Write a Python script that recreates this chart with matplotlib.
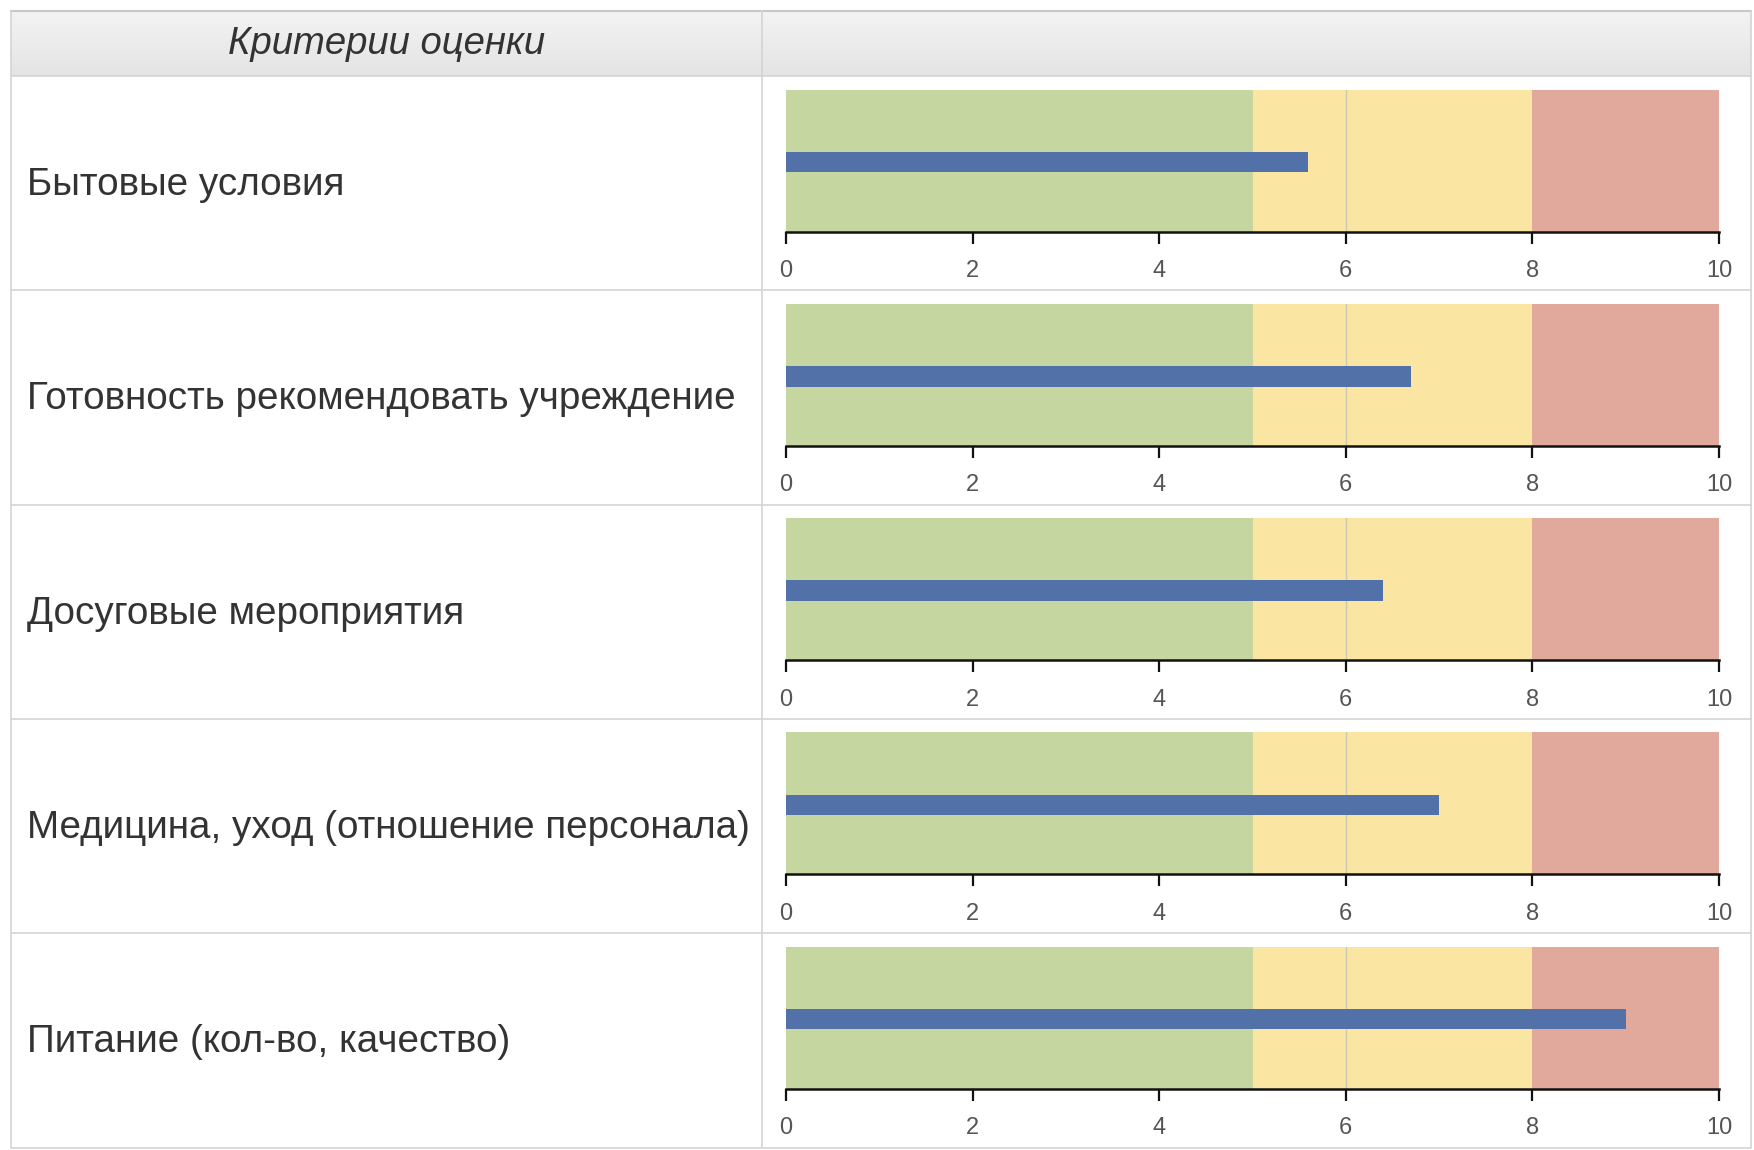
import matplotlib
matplotlib.use("Agg")
import matplotlib.pyplot as plt
from matplotlib.lines import Line2D
import numpy as np

# ---- data ----
categories = [
    "Бытовые условия",
    "Готовность рекомендовать учреждение",
    "Досуговые мероприятия",
    "Медицина, уход (отношение персонала)",
    "Питание (кол-во, качество)",
]
values = [5.6, 6.7, 6.4, 7.0, 9.0]
range_edges = [0, 5, 8, 10]
range_colors = ["#c5d6a0", "#fae6a2", "#e0a99c"]
tick_values = [0, 2, 4, 6, 8, 10]
tick_labels = ["0", "2", "4", "6", "8", "10"]
grid_value = 6
header_text = "Критерии оценки"

W, H = 1754, 1150
fig = plt.figure(figsize=(W / 100, H / 100), dpi=100)
fig.patch.set_facecolor("white")

FONT = ["Liberation Sans", "DejaVu Sans"]

def fx(x):
    return x / W

def fy(y):
    return 1 - y / H

bg = fig.add_axes([0, 0, 1, 1])
bg.set_xlim(0, W)
bg.set_ylim(H, 0)
bg.axis("off")

table_left, table_right = 11, 1751
col_div = 762
header_top, header_bot = 11, 76
row_pitch = 214.3
line_col = "#d4d4d4"

grad = np.linspace(0, 1, 50).reshape(-1, 1)
bg.imshow(grad, extent=[table_left, table_right, header_bot, header_top],
          cmap=matplotlib.colors.LinearSegmentedColormap.from_list("g", ["#f3f3f3", "#e4e4e4"]),
          aspect="auto", zorder=0)
bg.set_xlim(0, W)
bg.set_ylim(H, 0)
bg.text((table_left + col_div) / 2, (header_top + header_bot) / 2 + 1, header_text,
        fontsize=27.5, style="italic", color="#333333", ha="center", va="center",
        family=FONT)

bg.add_line(Line2D([table_left, table_right], [header_top, header_top], color="#c8c8c8", lw=1.5))
bg.add_line(Line2D([table_left, table_right], [header_bot, header_bot], color=line_col, lw=1.2))
for i in range(1, 6):
    yy = header_bot + i * row_pitch
    bg.add_line(Line2D([table_left, table_right], [yy, yy], color=line_col, lw=1.2))
bg.add_line(Line2D([table_left, table_left], [header_top, H - 3], color=line_col, lw=1.2))
bg.add_line(Line2D([table_right, table_right], [header_top, H - 3], color=line_col, lw=1.2))
bg.add_line(Line2D([col_div, col_div], [header_top, H - 3], color=line_col, lw=1.2))

x0_px, x10_px = 786, 1719
band_top_off = 13.5
band_h = 142

for i, (cat, val) in enumerate(zip(categories, values)):
    row_top = header_bot + i * row_pitch
    bg.text(27, row_top + row_pitch / 2 + 2, cat, fontsize=27.8, color="#333333",
            ha="left", va="center", family=FONT)

    btop = row_top + band_top_off
    bbot = btop + band_h
    ax = fig.add_axes([fx(x0_px), fy(bbot), (x10_px - x0_px) / W, band_h / H])
    ax.set_xlim(range_edges[0], range_edges[-1])
    ax.set_ylim(0, 1)
    for (a, b), c in zip(zip(range_edges[:-1], range_edges[1:]), range_colors):
        ax.barh(0.5, b - a, left=a, height=1.0, color=c, edgecolor="none", zorder=1)
    ax.axvline(grid_value, color="#c9c9b0", lw=1.0, zorder=2)
    ax.barh(0.49, val, left=0, height=0.145, color="#5171a8", edgecolor="none", zorder=3)
    for s in ["top", "left", "right"]:
        ax.spines[s].set_visible(False)
    ax.spines["bottom"].set_color("#111111")
    ax.spines["bottom"].set_linewidth(1.8)
    ax.set_yticks([])
    ax.set_xticks(tick_values)
    ax.set_xticklabels(tick_labels, fontsize=17, color="#555555", family=FONT)
    ax.tick_params(axis="x", direction="out", length=8.5, width=1.6, color="#111111", pad=12)
    ax.patch.set_alpha(0)

fig.savefig("out.png", dpi=100)
